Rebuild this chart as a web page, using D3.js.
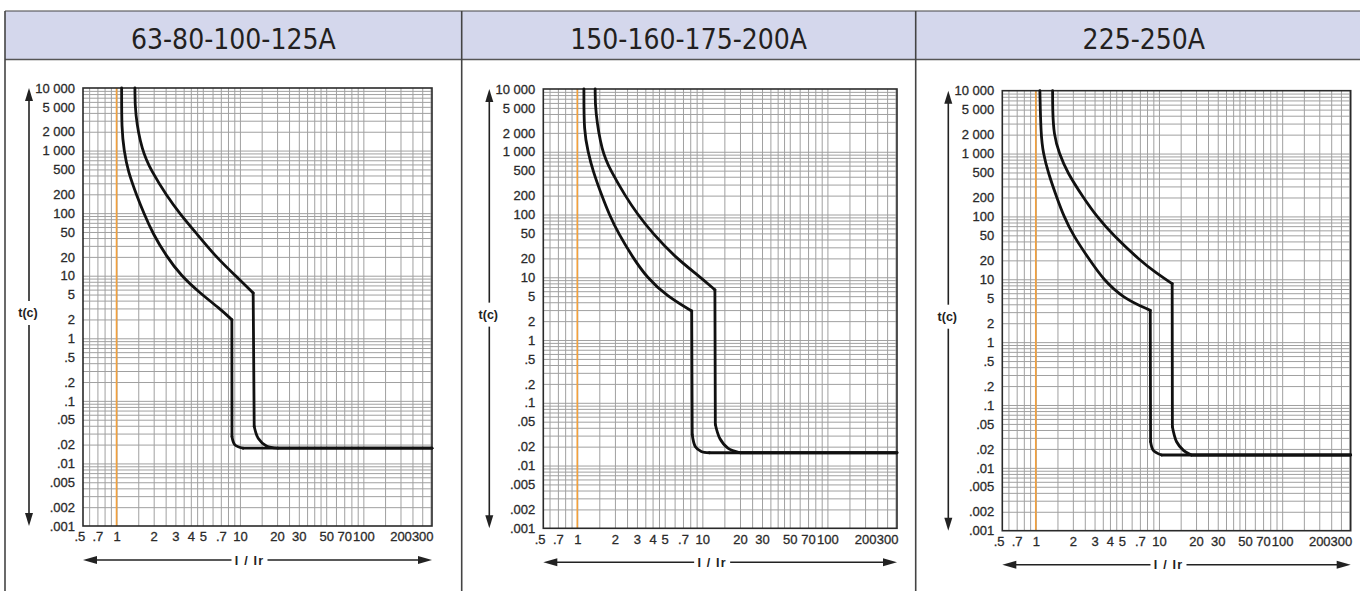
<!DOCTYPE html>
<html>
<head>
<meta charset="utf-8">
<script src="https://cdn.jsdelivr.net/npm/d3@7"></script>
<style>
  body { margin: 0; background: #fff; }
  svg { display: block; }
</style>
</head>
<body>
<div id="chart"></div>
<script>
// headers
const titles = ["63-80-100-125A", "150-160-175-200A", "225-250A"];

// axis ticks (I / Ir and t in seconds)
const xTicks = [0.5, 0.7, 1, 2, 3, 4, 5, 7, 10, 20, 30, 50, 70, 100, 200, 300];
const xTickText = [".5", ".7", "1", "2", "3", "4", "5", ".7", "10", "20", "30", "50", "70", "100", "200", "300"];
const yTicks = [10000, 5000, 2000, 1000, 500, 200, 100, 50, 20, 10, 5, 2, 1, 0.5, 0.2, 0.1, 0.05, 0.02, 0.01, 0.005, 0.002, 0.001];
const yTickText = ["10 000", "5 000", "2 000", "1 000", "500", "200", "100", "50", "20", "10", "5", "2", "1", ".5", ".2", ".1", ".05", ".02", ".01", ".005", ".002", ".001"];
const xDomain = [0.535, 360];
const yDomain = [0.001, 10000];
const ratedLine = 1; // orange line at I/Ir = 1

// curves: [I/Ir, t]  -- thermal part, then magnetic drop (corner, knee..., end)
const lower1 = [[1.10, 10000], [1.10, 2200], [1.15, 1000], [1.24, 460], [1.46, 190], [1.67, 98], [1.97, 47], [2.52, 20.9], [3.33, 10], [4.74, 5.3], [6.88, 2.97], [8.6, 1.98]];
const lower1Tail = [[8.6, 1.98], [8.62, 0.027], [9.1, 0.0198], [10.6, 0.0175], [360, 0.0175]];
const upper1 = [[1.41, 10000], [1.41, 4000], [1.6, 1000], [1.93, 460], [2.55, 190], [3.26, 98], [4.46, 47], [6.48, 19.4], [9.4, 9.6], [12.8, 5.3]];
const upper1Tail = [[12.8, 5.3], [13.05, 0.039], [14.1, 0.025], [16.4, 0.019], [20.3, 0.0175], [360, 0.0175]];

const lower2 = [[1.13, 10000], [1.13, 2085], [1.22, 1000], [1.33, 500], [1.57, 200], [1.80, 100], [2.13, 50], [2.81, 20], [3.59, 10], [5.19, 5], [8.22, 2.9]];
const lower2Tail = [[8.22, 2.9], [8.3, 0.031], [8.8, 0.02], [9.8, 0.0168], [11.4, 0.016], [360, 0.016]];
const upper2 = [[1.39, 10000], [1.39, 4500], [1.57, 1000], [1.85, 500], [2.41, 200], [3.04, 100], [4.0, 50], [6.2, 20], [9.4, 10.5], [12.6, 6.3]];
const upper2Tail = [[12.6, 6.3], [12.7, 0.045], [13.8, 0.027], [16, 0.019], [20, 0.016], [360, 0.016]];

const lower3 = [[1.08, 10000], [1.10, 2000], [1.15, 1000], [1.26, 500], [1.48, 200], [1.69, 100], [2.01, 50], [2.75, 20], [3.52, 10], [5.12, 5], [8.5, 3.2]];
const lower3Tail = [[8.5, 3.2], [8.55, 0.026], [9.0, 0.019], [10.5, 0.016], [360, 0.016]];
const upper3 = [[1.37, 10000], [1.37, 5000], [1.40, 2000], [1.55, 1000], [1.80, 500], [2.43, 200], [3.12, 100], [4.25, 50], [7.0, 20], [9.4, 12.8], [12.8, 8.5]];
const upper3Tail = [[12.8, 8.5], [12.85, 0.045], [13.9, 0.026], [15.8, 0.019], [18.3, 0.016], [360, 0.016]];

const W = 1360, H = 591;
const svg = d3.select("#chart").append("svg").attr("width", W).attr("height", H);

// table frame
const cellEdges = [5, 461.7, 915.7, 1372];
const headTop = 11, headBottom = 59.5;

svg.append("rect")
  .attr("x", cellEdges[0]).attr("y", headTop)
  .attr("width", W - cellEdges[0] + 5).attr("height", headBottom - headTop)
  .attr("fill", "#d4d7ec");

svg.append("line")
  .attr("x1", cellEdges[0]).attr("x2", W)
  .attr("y1", headTop).attr("y2", headTop)
  .attr("stroke", "#444").attr("stroke-width", 1.2);
svg.append("line")
  .attr("x1", cellEdges[0]).attr("x2", W)
  .attr("y1", headBottom).attr("y2", headBottom)
  .attr("stroke", "#555").attr("stroke-width", 1.5);
cellEdges.slice(0, 3).forEach((cx) => {
  svg.append("line")
    .attr("x1", cx).attr("x2", cx)
    .attr("y1", headTop).attr("y2", H)
    .attr("stroke", "#444").attr("stroke-width", 1.6);
});

const panels = [
  { box: { left: 83, right: 432, top: 88, bottom: 526 }, lower: lower1, lowerTail: lower1Tail, upper: upper1, upperTail: upper1Tail },
  { box: { left: 543.3, right: 897, top: 89, bottom: 528.3 }, lower: lower2, lowerTail: lower2Tail, upper: upper2, upperTail: upper2Tail },
  { box: { left: 1002.3, right: 1350.7, top: 90.7, bottom: 530.7 }, lower: lower3, lowerTail: lower3Tail, upper: upper3, upperTail: upper3Tail },
];

// grid values of log paper
const xMant = [1, 1.5, 2, 2.5, 3, 3.5, 4, 4.5, 5, 6, 7, 8, 9];
const yMant = [1, 2, 3, 4, 5, 6, 7, 8, 9];
const logGrid = (mant, lo, hi, dom) =>
  d3.range(lo, hi + 1).flatMap((k) => mant.map((m) => m * Math.pow(10, k)))
    .filter((v) => v > dom[0] * 1.001 && v < dom[1] * 0.999);
const gridX = logGrid(xMant, -1, 2, xDomain);
const gridY = logGrid(yMant, -3, 3, yDomain);

const tickFont = "'Liberation Sans', Arial, sans-serif";

panels.forEach((p, i) => {
  const b = p.box;
  const g = svg.append("g");

  // header text
  svg.append("text")
    .attr("x", (cellEdges[i] + cellEdges[i + 1]) / 2)
    .attr("y", 49)
    .attr("text-anchor", "middle")
    .attr("font-family", "'DejaVu Sans Condensed', 'DejaVu Sans', sans-serif")
    .attr("font-stretch", "condensed")
    .attr("font-size", 28)
    .attr("fill", "#231f20")
    .text(titles[i]);

  const x = d3.scaleLog().domain(xDomain).range([b.left, b.right]);
  const y = d3.scaleLog().domain(yDomain).range([b.bottom, b.top]);
  const w = b.right - b.left, h = b.bottom - b.top;

  // grid
  g.append("g")
    .attr("transform", `translate(0,${b.bottom})`)
    .call(d3.axisBottom(x).tickValues(gridX).tickSize(-h).tickFormat(""))
    .call((s) => s.select(".domain").remove())
    .selectAll("line").attr("stroke", "#a0a0a0").attr("stroke-width", 1);
  g.append("g")
    .attr("transform", `translate(${b.left},0)`)
    .call(d3.axisLeft(y).tickValues(gridY).tickSize(-w).tickFormat(""))
    .call((s) => s.select(".domain").remove())
    .selectAll("line").attr("stroke", "#a0a0a0").attr("stroke-width", 1);

  // rated current line
  g.append("line")
    .attr("x1", x(ratedLine)).attr("x2", x(ratedLine))
    .attr("y1", b.top).attr("y2", b.bottom)
    .attr("stroke", "#f2a03c").attr("stroke-width", 1.6);

  // frame
  g.append("rect")
    .attr("x", b.left).attr("y", b.top)
    .attr("width", w).attr("height", h)
    .attr("fill", "none").attr("stroke", "#2a2a2a").attr("stroke-width", 1.6);

  // tick labels
  g.append("g")
    .attr("transform", `translate(${b.left},0)`)
    .call(d3.axisLeft(y).tickValues(yTicks).tickSize(0).tickPadding(8)
      .tickFormat((d, j) => yTickText[j]))
    .call((s) => s.select(".domain").remove())
    .selectAll("text")
    .attr("font-family", tickFont).attr("font-size", 13).attr("fill", "#2a2a2a")
    .attr("stroke", "#2a2a2a").attr("stroke-width", 0.3);
  g.append("g")
    .attr("transform", `translate(0,${b.bottom})`)
    .call(d3.axisBottom(x).tickValues(xTicks).tickSize(0).tickPadding(6)
      .tickFormat((d, j) => xTickText[j]))
    .call((s) => s.select(".domain").remove())
    .selectAll("text")
    .attr("font-family", tickFont).attr("font-size", 13).attr("fill", "#2a2a2a")
    .attr("stroke", "#2a2a2a").attr("stroke-width", 0.3);

  // curves: smooth thermal part, straight drop, rounded knee, straight tail
  const smooth = d3.line().x((d) => x(d[0])).y((d) => y(d[1])).curve(d3.curveBasis);
  const knee = d3.line().x((d) => x(d[0])).y((d) => y(d[1])).curve(d3.curveCatmullRom.alpha(0.5));
  const straight = d3.line().x((d) => x(d[0])).y((d) => y(d[1]));
  const curveStyle = (sel) => sel
    .attr("fill", "none")
    .attr("stroke", "#111")
    .attr("stroke-width", 2.8)
    .attr("stroke-linejoin", "round")
    .attr("stroke-linecap", "round");
  [[p.lower, p.lowerTail], [p.upper, p.upperTail]].forEach(([main, tail]) => {
    const n = tail.length;
    g.append("path").attr("d", smooth(main)).call(curveStyle);
    g.append("path").attr("d", straight(tail.slice(0, 2))).call(curveStyle);
    g.append("path").attr("d", knee(tail.slice(1, n - 1))).call(curveStyle);
    g.append("path").attr("d", straight(tail.slice(n - 2))).call(curveStyle);
  });

  // t(c) arrow
  const ax = b.left - 54;
  const midY = (b.top + b.bottom) / 2 + 6;
  g.append("line").attr("x1", ax).attr("x2", ax).attr("y1", b.top + 10).attr("y2", midY - 12)
    .attr("stroke", "#222").attr("stroke-width", 1.6);
  g.append("line").attr("x1", ax).attr("x2", ax).attr("y1", midY + 12).attr("y2", b.bottom - 10)
    .attr("stroke", "#222").attr("stroke-width", 1.6);
  g.append("path").attr("d", `M${ax},${b.top}L${ax - 4},${b.top + 13}L${ax + 4},${b.top + 13}Z`).attr("fill", "#222");
  g.append("path").attr("d", `M${ax},${b.bottom}L${ax - 4},${b.bottom - 13}L${ax + 4},${b.bottom - 13}Z`).attr("fill", "#222");
  g.append("text")
    .attr("x", ax - 1).attr("y", midY + 4)
    .attr("text-anchor", "middle")
    .attr("font-family", tickFont).attr("font-weight", "bold").attr("font-size", 12.5)
    .attr("fill", "#222")
    .text("t(c)");

  // I / Ir arrow
  const ay = b.bottom + 34;
  const cx = (b.left + b.right) / 2 - 8;
  g.append("line").attr("x1", b.left + 10).attr("x2", cx - 18).attr("y1", ay).attr("y2", ay)
    .attr("stroke", "#222").attr("stroke-width", 1.6);
  g.append("line").attr("x1", cx + 18).attr("x2", b.right - 10).attr("y1", ay).attr("y2", ay)
    .attr("stroke", "#222").attr("stroke-width", 1.6);
  g.append("path").attr("d", `M${b.left},${ay}L${b.left + 14},${ay - 4}L${b.left + 14},${ay + 4}Z`).attr("fill", "#222");
  g.append("path").attr("d", `M${b.right},${ay}L${b.right - 14},${ay - 4}L${b.right - 14},${ay + 4}Z`).attr("fill", "#222");
  g.append("text")
    .attr("x", cx).attr("y", ay + 4.5)
    .attr("text-anchor", "middle")
    .attr("font-family", tickFont).attr("font-weight", "bold").attr("font-size", 12.5)
    .attr("letter-spacing", 1.2)
    .attr("fill", "#222")
    .text("I / Ir");
});
</script>
</body>
</html>
